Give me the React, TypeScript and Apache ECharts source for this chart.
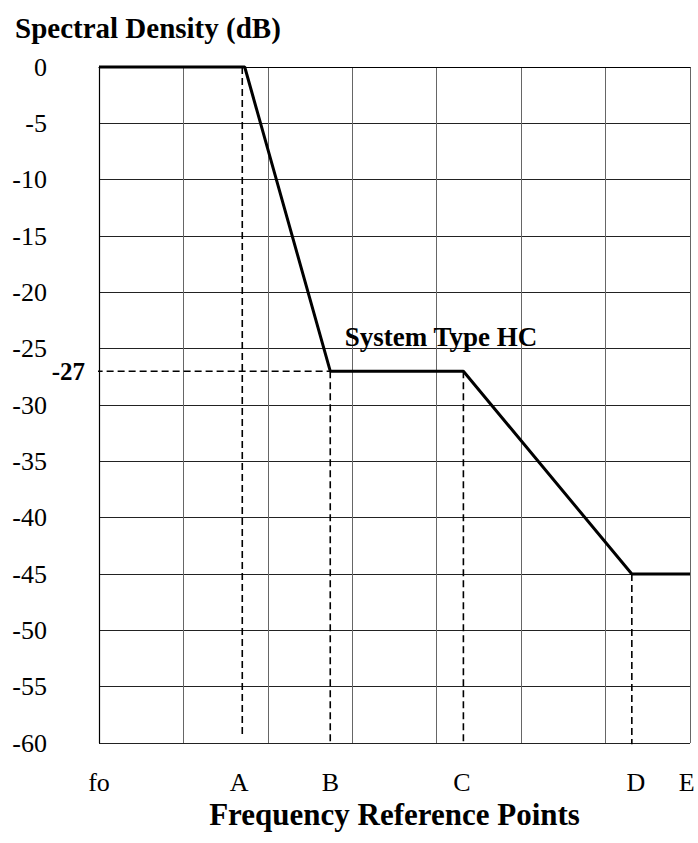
import React, { useEffect, useRef } from "react";
import * as echarts from "echarts";

const refLabels = ["fo", "A", "B", "C", "D", "E"];
const refLabelX = [0, 1.66, 2.74, 4.3, 6.36, 6.96];
const responseX = [0, 1.726, 2.739, 4.316, 6.311, 7];
const responseY = [0, 0, -27, -27, -45, -45];
// dashed guide segments: [x1, y1, x2, y2]
const guideA = [1.697, 0, 1.697, -59.3];
const guideB = [2.739, -27, 2.739, -60];
const guideC = [4.316, -27, 4.316, -60];
const guideD = [6.311, -45, 6.311, -60.1];
const guide27 = [-0.04, -27, 2.739, -27];
const markedLevel = -27;
const systemLabel = "System Type HC";
const systemLabelPos = [2.91, -24];

const FONT = "'Liberation Serif', 'Times New Roman', serif";

export default function App() {
  const ref = useRef<HTMLDivElement>(null);
  useEffect(() => {
    document.body.style.margin = "0";
    const chart = echarts.init(ref.current!, null, { renderer: "svg" });
    const dashed = (seg: number[]) => ({
      type: "line",
      data: [
        [seg[0], seg[1]],
        [seg[2], seg[3]],
      ],
      symbol: "none",
      clip: false,
      silent: true,
      lineStyle: { color: "#000", width: 1.6, type: [7, 4] },
      z: 3,
    });
    const textSeries = (data: any[], label: any, z = 6) => ({
      type: "scatter",
      data,
      symbolSize: 0,
      clip: false,
      silent: true,
      itemStyle: { opacity: 1, color: "#000" },
      label: {
        show: true,
        formatter: (p: any) => p.name,
        fontFamily: FONT,
        color: "#000",
        ...label,
      },
      z,
    });
    chart.setOption({
      animation: false,
      backgroundColor: "#fff",
      textStyle: { fontFamily: FONT },
      title: {
        text: "Spectral Density (dB)",
        left: 10,
        top: 8,
        textStyle: { fontFamily: FONT, fontSize: 29, fontWeight: "bold", color: "#000" },
      },
      grid: { left: 99, right: 8, top: 67, bottom: 100 },
      xAxis: {
        type: "value",
        min: 0,
        max: 7,
        interval: 1,
        axisLine: { show: true, lineStyle: { color: "#000", width: 1.2 } },
        axisTick: { show: false },
        axisLabel: { show: false },
        splitLine: { show: true, lineStyle: { color: "#666", width: 1 } },
        name: "Frequency Reference Points",
        nameLocation: "middle",
        nameGap: 56,
        nameTextStyle: { fontFamily: FONT, fontSize: 31, fontWeight: "bold", color: "#000" },
      },
      yAxis: {
        type: "value",
        min: -60,
        max: 0,
        interval: 5,
        axisLine: { show: true, onZero: false, lineStyle: { color: "#000", width: 1.2 } },
        axisTick: { show: false },
        axisLabel: { margin: 52, fontFamily: FONT, fontSize: 26, color: "#000" },
        splitLine: { show: true, lineStyle: { color: "#222", width: 1 } },
      },
      series: [
        {
          type: "line",
          data: responseX.map((x, i) => [x, responseY[i]]),
          symbol: "none",
          clip: false,
          lineStyle: { color: "#000", width: 3 },
          z: 5,
        },
        dashed(guideA),
        dashed(guideB),
        dashed(guideC),
        dashed(guideD),
        dashed(guide27),
        textSeries(
          refLabels.map((l, i) => ({ value: [refLabelX[i], -60], name: l })),
          { position: "inside", offset: [0, 39], fontSize: 26 }
        ),
        textSeries(
          [{ value: [0, markedLevel], name: String(markedLevel) }],
          { position: "left", distance: 14, fontSize: 25, fontWeight: "bold" }
        ),
        textSeries(
          [{ value: systemLabelPos, name: systemLabel }],
          { position: "right", distance: 0, fontSize: 27, fontWeight: "bold" }
        ),
      ],
    });
    return () => chart.dispose();
  }, []);
  return <div ref={ref} style={{ width: 698, height: 843 }} />;
}
